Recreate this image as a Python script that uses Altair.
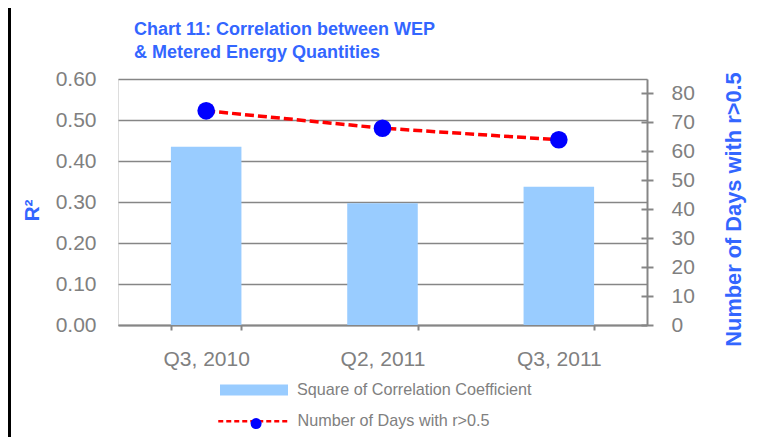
import altair as alt
import pandas as pd

# ---- data ----
quarters = ["Q3, 2010", "Q2, 2011", "Q3, 2011"]
r_squared = [0.435, 0.297, 0.337]
days_r_gt_05 = [74, 68, 64]
left_ticks = [0.0, 0.1, 0.2, 0.3, 0.4, 0.5, 0.6]
right_ticks = [0, 10, 20, 30, 40, 50, 60, 70, 80]
bar_series = "Square of Correlation  Coefficient"
line_series = "Number of Days with r>0.5"
title_lines = ["Chart 11: Correlation between WEP", "& Metered Energy Quantities"]

df = pd.DataFrame({
    "quarter": quarters,
    "r2": r_squared,
    "days": days_r_gt_05,
    "bar_series": [bar_series] * 3,
    "line_series": [line_series] * 3,
    "point_series": [line_series] * 3,
})

GRAY = "#868686"
LABEL = "#808080"
BLUE_T = "#3366FF"
FONT = "Liberation Sans"

base = alt.Chart(df)

x_enc = alt.X(
    "quarter:N", sort=quarters, title=None,
    scale=alt.Scale(paddingInner=0.6, paddingOuter=0.3),
    axis=alt.Axis(labelAngle=0, labelFontSize=21, labelColor=LABEL, labelFont=FONT,
                  domainColor=GRAY, domainWidth=2, tickColor=GRAY, tickWidth=2,
                  tickSize=5, tickBand="extent", labelPadding=18, grid=False),
)

bars = base.mark_bar().encode(
    x=x_enc,
    y=alt.Y("r2:Q", scale=alt.Scale(domain=[0, 0.6], nice=False),
            axis=alt.Axis(orient="left", values=left_ticks, format=".2f",
                          labelFontSize=21, labelColor=LABEL, labelFont=FONT,
                          ticks=False, domain=False, grid=True, gridColor=GRAY,
                          gridWidth=1.5, labelPadding=22,
                          title="R²", titleColor=BLUE_T, titleFontSize=21,
                          titleFont=FONT, titleFontWeight="bold",
                          titleX=-86, titleY=131, titleAngle=270,
                          titleAlign="center", titleBaseline="middle")),
    fill=alt.Fill("bar_series:N", scale=alt.Scale(range=["#99CCFF"]),
                  legend=alt.Legend(orient="none", legendX=102, legendY=277,
                                    title=None, padding=0,
                                    symbolType="M-1,-0.16H1V0.16H-1Z",
                                    symbolSize=4624, symbolStrokeWidth=0,
                                    labelFontSize=16.2, labelColor=LABEL,
                                    labelFont=FONT, labelOffset=9, labelLimit=500)),
)

y_right = alt.Y("days:Q", scale=alt.Scale(domain=[0, 85], nice=False),
                axis=alt.Axis(orient="right", values=right_ticks,
                              labelFontSize=21, labelColor=LABEL, labelFont=FONT,
                              domainColor=GRAY, domainWidth=2, tickColor=GRAY,
                              tickWidth=2, tickSize=6, labelPadding=18, grid=False,
                              title=line_series, titleColor=BLUE_T, titleFontSize=21.8,
                              titleFont=FONT, titleFontWeight="bold",
                              titleX=86, titleY=130, titleAngle=270,
                              titleAlign="center", titleBaseline="middle"))

line = base.mark_line(strokeWidth=3.5, strokeDash=[9, 4]).encode(
    x=x_enc,
    y=y_right,
    stroke=alt.Stroke("line_series:N", scale=alt.Scale(range=["#FF0000"]),
                      legend=alt.Legend(orient="none", legendX=98.75, legendY=305.25,
                                        title=None, padding=0,
                                        symbolType="M-1,0H1", symbolSize=5041,
                                        symbolDash=[5, 3], symbolStrokeWidth=2.5,
                                        symbolStrokeColor="#FF0000",
                                        labelFontSize=16.2, labelColor=LABEL,
                                        labelFont=FONT, labelOffset=6.75,
                                        labelLimit=500)),
)

points = base.mark_point(filled=True, size=310, fill="#0000FF", opacity=1).encode(
    x=x_enc,
    y=y_right,
    shape=alt.Shape("point_series:N", scale=alt.Scale(range=["circle"]),
                    legend=alt.Legend(orient="none", legendX=130, legendY=336.5,
                                      title=None, padding=0, symbolSize=121,
                                      symbolFillColor="#0000FF",
                                      symbolStrokeColor="#0000FF",
                                      symbolStrokeWidth=0, symbolOpacity=1,
                                      labelFontSize=16.2, labelOpacity=0,
                                      labelFont=FONT, labelOffset=6.75,
                                      labelLimit=500)),
)

inner_ticks = base.mark_line(opacity=0).encode(
    x=x_enc,
    y=alt.Y("days:Q", scale=alt.Scale(domain=[0, 85], nice=False),
            axis=alt.Axis(orient="right", values=right_ticks, offset=-6,
                          tickSize=6, tickColor=GRAY, tickWidth=2, domain=False,
                          labels=False, title=None, grid=False)),
)

frame = base.mark_rule(color="black", strokeWidth=3).encode(
    x=alt.value(-108.5), y=alt.value(-71), y2=alt.value(358)
)

chart = alt.layer(
    bars, alt.layer(line, points), inner_ticks, frame
).resolve_scale(y="independent").properties(
    width=529, height=246,
    autosize=alt.AutoSizeParams(type="none"),
    padding={"left": 110, "top": 71, "right": 109, "bottom": 112},
    title=alt.TitleParams(title_lines, anchor="start", fontSize=18,
                          fontWeight="bold", color=BLUE_T, font=FONT, dx=126,
                          offset=0, dy=55, lineHeight=23, baseline="top"),
).configure_view(stroke=None).configure(font=FONT)

chart.save("out.html", embed_options={"renderer": "svg", "actions": False})
